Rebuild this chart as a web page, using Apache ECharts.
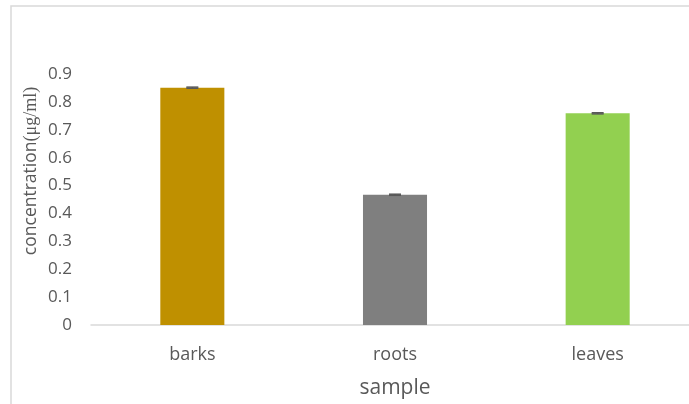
<!DOCTYPE html>
<html>
<head>
<meta charset="utf-8">
<script src="https://cdn.jsdelivr.net/npm/echarts@6/dist/echarts.min.js"></script>
<style>html,body{margin:0;padding:0;background:#fff;overflow:hidden;}#c{width:699px;height:404px;}</style>
</head>
<body>
<div id="c"></div>
<script>
const categories = ['barks', 'roots', 'leaves'];
const values = [0.851, 0.467, 0.759];
const errors = [0.002, 0.002, 0.002];
const barColors = ['#BF9000', '#7F7F7F', '#92D050'];
const yTicks = [0, 0.1, 0.2, 0.3, 0.4, 0.5, 0.6, 0.7, 0.8, 0.9];

const chart = echarts.init(document.getElementById('c'), null, {renderer: 'canvas'});
const FONT = '"Open Sans", sans-serif';
chart.setOption({
  animation: false,
  grid: {left: 91, right: 0, top: 74, height: 251, containLabel: false},
  xAxis: {
    type: 'category',
    data: categories,
    axisLine: {lineStyle: {color: '#D9D9D9', width: 1.5}},
    axisTick: {show: false},
    axisLabel: {color: '#595959', fontSize: 18, fontFamily: FONT, margin: 21},
    name: 'sample',
    nameLocation: 'middle',
    nameGap: 53,
    nameTextStyle: {color: '#595959', fontSize: 21, fontFamily: FONT}
  },
  yAxis: {
    type: 'value',
    min: 0, max: 0.9, interval: 0.1,
    splitLine: {show: false},
    axisLine: {show: false},
    axisTick: {show: false},
    axisLabel: {
      color: '#595959', fontSize: 17, fontFamily: FONT, margin: 19,
      formatter: function (v) {
        const t = yTicks.find(x => Math.abs(x - v) < 1e-9);
        return t === 0 ? '0' : String(t);
      }
    }
  },
  series: [
    {
      type: 'bar',
      barWidth: '31.6%',
      data: values.map((v, i) => ({value: v, itemStyle: {color: barColors[i]}}))
    },
    {
      type: 'custom',
      z: 10,
      data: values.map((v, i) => [i, v, errors[i]]),
      renderItem: function (params, api) {
        const x = api.value(0), v = api.value(1), e = api.value(2);
        const top = api.coord([x, v + e]);
        const bot = api.coord([x, v - e]);
        const hw = 6;
        const st = {stroke: '#595959', lineWidth: 1.5};
        return {
          type: 'group',
          children: [
            {type: 'line', shape: {x1: top[0], y1: top[1], x2: bot[0], y2: bot[1]}, style: st},
            {type: 'line', shape: {x1: top[0] - hw, y1: top[1], x2: top[0] + hw, y2: top[1]}, style: st},
            {type: 'line', shape: {x1: bot[0] - hw, y1: bot[1], x2: bot[0] + hw, y2: bot[1]}, style: st}
          ]
        };
      }
    }
  ],
  graphic: [
    {type: 'rect', shape: {x: 11, y: 6, width: 720, height: 440}, style: {fill: 'none', stroke: '#D9D9D9', lineWidth: 1.5}, silent: true},
    {
      type: 'text', x: 31, y: 171, rotation: Math.PI / 2, originX: 0, originY: 0,
      style: {
        text: '{a|concentration}{b|(μg/ml)}',
        align: 'center', verticalAlign: 'middle',
        rich: {
          a: {fontSize: 17.5, fontFamily: FONT, fill: '#595959'},
          b: {fontSize: 18, fontFamily: '"Liberation Serif", serif', fill: '#595959'}
        }
      }
    }
  ]
});
</script>
</body>
</html>
